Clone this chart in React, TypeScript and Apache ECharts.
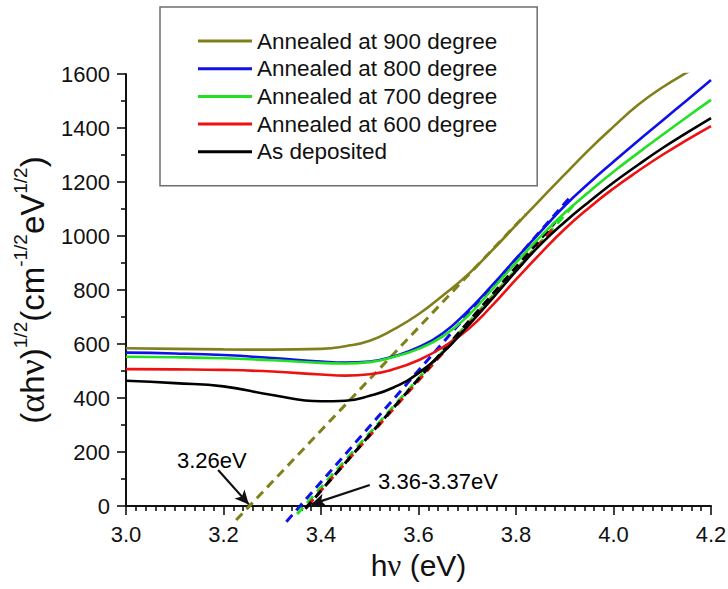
import React, { useEffect, useRef } from 'react';
import * as echarts from 'echarts';

// Photon energy samples (eV)
const photonEnergy = [3.0, 3.1, 3.2, 3.3, 3.4, 3.45, 3.5, 3.55, 3.6, 3.65, 3.7, 3.75, 3.8, 3.85, 3.9, 3.95, 4.0, 4.05, 4.1, 4.15, 4.2];

// (alpha h nu)^(1/2) for each film
const annealed900 = [584, 582, 580, 579, 582, 592, 612, 655, 710, 780, 855, 945, 1040, 1135, 1228, 1320, 1405, 1485, 1550, 1605, 1655];
const annealed800 = [568, 565, 559, 548, 535, 531, 535, 555, 588, 640, 720, 815, 916, 1015, 1112, 1196, 1275, 1352, 1427, 1502, 1578];
const annealed700 = [553, 551, 547, 540, 530, 528, 533, 553, 582, 628, 702, 800, 901, 998, 1086, 1164, 1238, 1307, 1374, 1440, 1504];
const annealed600 = [507, 506, 504, 498, 487, 483, 488, 507, 540, 588, 652, 740, 839, 935, 1026, 1105, 1176, 1240, 1300, 1355, 1407];
const asDeposited = [464, 455, 443, 411, 388, 390, 408, 440, 492, 568, 664, 765, 870, 968, 1052, 1127, 1198, 1263, 1325, 1382, 1437];

// Linear extrapolations of the absorption edges (start and end points)
const edge900 = [[3.226, -52], [3.82, 1080]];
const edge800 = [[3.329, -58], [3.91, 1142]];
const edge700 = [[3.351, -30], [3.92, 1118]];
const edge600 = [[3.372, 0], [3.88, 1035]];
const edgeAsDep = [[3.368, -10], [3.88, 1050]];

const seriesNames = [
  'Annealed at 900 degree',
  'Annealed at 800 degree',
  'Annealed at 700 degree',
  'Annealed at 600 degree',
  'As deposited',
];
const seriesColors = ['#80801a', '#1010e8', '#22e022', '#ee1111', '#000000'];
const seriesValues = [annealed900, annealed800, annealed700, annealed600, asDeposited];
const edgeLines = [edge900, edge800, edge700, edge600, edgeAsDep];

// Band-gap call-outs: label position and arrow (tail -> head)
const gapLabels = [
  { name: '3.26eV', value: [3.176, 170] },
  { name: '3.36-3.37eV', value: [3.64, 89] },
];
const gapArrows = [
  [[3.189, 133], [3.252, 6]],
  [[3.5, 78], [3.38, 6]],
];

const sans = '"Liberation Sans", Arial, sans-serif';
const serif = '"Liberation Serif", "Times New Roman", serif';

export default function App() {
  const ref = useRef<HTMLDivElement>(null);

  useEffect(() => {
    if (!ref.current) return;
    const chart = echarts.init(ref.current, null, { renderer: 'svg' });

    const curveSeries = seriesNames.map((name, k) => ({
      name,
      type: 'line',
      data: photonEnergy.map((x, i) => [x, seriesValues[k][i]]),
      smooth: true,
      symbol: 'none',
      z: 3,
      lineStyle: { color: seriesColors[k], width: 2.6 },
      itemStyle: { color: seriesColors[k] },
    }));

    const edgeSeries = edgeLines.map((pts, k) => ({
      name: 'edge-' + k,
      type: 'line',
      data: pts,
      symbol: 'none',
      clip: false,
      z: 2,
      lineStyle: { color: seriesColors[k], width: 3, type: [9, 6] },
      itemStyle: { color: seriesColors[k] },
    }));

    const calloutSeries = {
      name: 'callouts',
      type: 'scatter',
      data: gapLabels,
      symbolSize: 0,
      z: 5,
      itemStyle: { opacity: 1, color: '#000' },
      label: {
        show: true,
        position: 'inside',
        formatter: '{b}',
        fontFamily: sans,
        fontSize: 22,
        color: '#000',
        opacity: 1,
      },
      markLine: {
        silent: true,
        symbol: ['none', 'arrow'],
        symbolSize: [10, 14],
        label: { show: false },
        lineStyle: { color: '#111', width: 2.2, type: 'solid', opacity: 1 },
        data: gapArrows.map(([a, b]) => [{ coord: a }, { coord: b }]),
      },
    };

    const tickStyle = { color: '#111', width: 1.6 };

    chart.setOption({
      animation: false,
      backgroundColor: '#fff',
      grid: { left: 126, right: 17, top: 74, bottom: 83, containLabel: false, outerBoundsMode: 'none' },
      legend: {
        data: seriesNames,
        orient: 'vertical',
        left: 160,
        top: 7,
        padding: [22, 40, 22, 38],
        icon: 'rect',
        itemWidth: 54,
        itemHeight: 3,
        itemGap: 3.7,
        borderColor: '#6e6e6e',
        borderWidth: 1.5,
        backgroundColor: '#fff',
        textStyle: { fontFamily: sans, fontSize: 22.5, color: '#111', lineHeight: 24 },
      },
      xAxis: {
        type: 'value',
        min: 3.0,
        max: 4.2,
        interval: 0.2,
        name: '{p|h}{g|ν}{p| (eV)}',
        nameLocation: 'middle',
        nameGap: 40,
        nameTextStyle: {
          rich: {
            p: { fontFamily: sans, fontSize: 30, color: '#111', lineHeight: 36 },
            g: { fontFamily: serif, fontSize: 31, color: '#111', lineHeight: 36 },
          },
        },
        axisLine: { show: true, onZero: false, lineStyle: { color: '#111', width: 2 } },
        axisTick: { show: true, inside: false, length: 9, lineStyle: tickStyle },
        minorTick: { show: true, splitNumber: 10, length: 5, lineStyle: tickStyle },
        axisLabel: {
          margin: 17,
          fontFamily: sans,
          fontSize: 22,
          color: '#111',
          formatter: (v: number) => v.toFixed(1),
        },
        splitLine: { show: false },
        minorSplitLine: { show: false },
      },
      yAxis: {
        type: 'value',
        min: 0,
        max: 1600,
        interval: 200,
        name: '{p|(}{g|α}{p|h}{g|ν}{p|)}{s|1/2}{p|(cm}{s|-1/2}{p|eV}{s|1/2}{p|)}',
        nameLocation: 'middle',
        nameRotate: 90,
        nameGap: 62,
        nameTextStyle: {
          rich: {
            p: { fontFamily: sans, fontSize: 33, color: '#111', lineHeight: 42 },
            g: { fontFamily: serif, fontSize: 36, color: '#111', lineHeight: 42 },
            s: { fontFamily: sans, fontSize: 19, color: '#111', lineHeight: 20, verticalAlign: 'top' },
          },
        },
        axisLine: { show: true, onZero: false, lineStyle: { color: '#111', width: 2 } },
        axisTick: { show: true, inside: false, length: 9, lineStyle: tickStyle },
        minorTick: { show: true, splitNumber: 2, length: 5, lineStyle: tickStyle },
        axisLabel: {
          margin: 16,
          fontFamily: sans,
          fontSize: 22,
          color: '#111',
          formatter: (v: number) => String(v),
        },
        splitLine: { show: false },
        minorSplitLine: { show: false },
      },
      series: [...edgeSeries, ...curveSeries, calloutSeries],
    });

    return () => chart.dispose();
  }, []);

  return (
    <div
      ref={ref}
      style={{ position: 'fixed', left: 0, top: 0, width: 728, height: 589, background: '#fff' }}
    />
  );
}
